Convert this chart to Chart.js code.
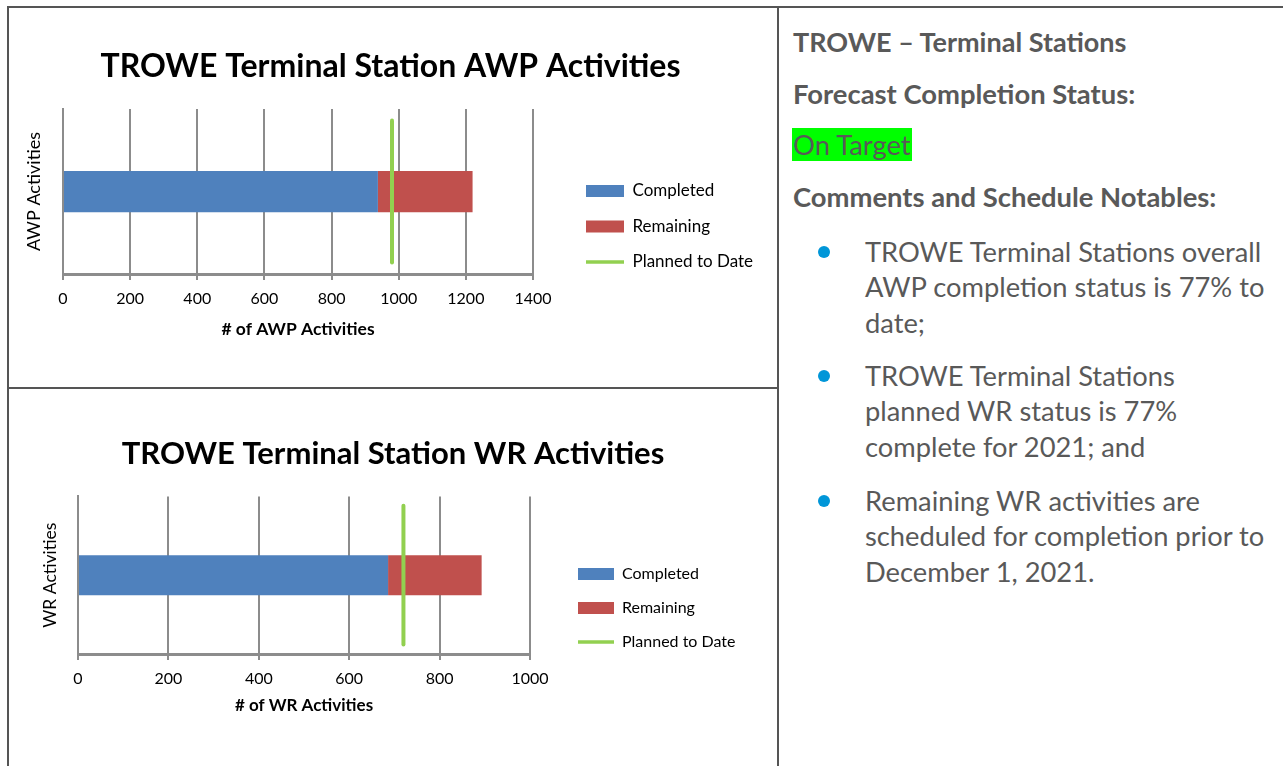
<!DOCTYPE html>
<html lang="en">
<head>
  <meta charset="UTF-8" />
  <title>TROWE Terminal Stations</title>
  <script src="https://cdn.jsdelivr.net/npm/chart.js"></script>
  <style>
    body { margin: 0; width: 1283px; height: 766px; overflow: hidden; background: #fff; position: relative; font-family: Lato, sans-serif; }
    .rule { position: absolute; background: #555; }
    canvas { position: absolute; left: 9px; }
    .note { position: absolute; left: 793px; margin: 0; color: #595959; font-size: 27.4px; line-height: 36px; white-space: nowrap; }
    .note.bold { font-weight: bold; }
    .hl { background: #00ff00; padding: 0 1px; }
    .item { position: absolute; left: 865px; margin: 0; color: #595959; font-size: 27.3px; line-height: 35.3px; white-space: nowrap; }
    .item::before { content: ''; position: absolute; left: -47px; top: 12px; width: 12px; height: 12px; border-radius: 50%; background: #0096d8; }
  </style>
</head>
<body>
  <div class="rule" style="left:7px; top:6px; width:1276px; height:2px;"></div>
  <div class="rule" style="left:7px; top:6px; width:2px; height:760px;"></div>
  <div class="rule" style="left:777px; top:6px; width:2px; height:760px;"></div>
  <div class="rule" style="left:7px; top:387px; width:772px; height:2px;"></div>

  <canvas id="awpChart" width="768" height="378" style="top:9px;"></canvas>
  <canvas id="wrChart" width="768" height="377" style="top:389px;"></canvas>

  <p class="note bold" style="top:24px; font-size:27px;">TROWE – Terminal Stations</p>
  <p class="note bold" style="top:76px;">Forecast Completion Status:</p>
  <p class="note" style="top:127px; left:792px;"><span class="hl">On Target</span></p>
  <p class="note bold" style="top:179px;">Comments and Schedule Notables:</p>
  <p class="item" style="top:234px;">TROWE Terminal Stations overall<br>AWP completion status is 77% to<br>date;</p>
  <p class="item" style="top:358px;">TROWE Terminal Stations<br>planned WR status is 77%<br>complete for 2021; and</p>
  <p class="item" style="top:483px;">Remaining WR activities are<br>scheduled for completion prior to<br>December 1, 2021.</p>

  <script>
    // series names shared by both charts
    const seriesNames = ['Completed', 'Remaining', 'Planned to Date'];

    // AWP activities
    const awpCategories = ['AWP Activities'];
    const awpCompleted = [938];
    const awpRemaining = [282];
    const awpPlanned = [980];
    const awpTickRange = [0, 1400];

    // WR activities
    const wrCategories = ['WR Activities'];
    const wrCompleted = [686];
    const wrRemaining = [207];
    const wrPlanned = [720];
    const wrTickRange = [0, 1000];

    const tickStep = 200;

    const BLUE = '#4f81bd';
    const RED = '#c0504d';
    const GREEN = '#92d050';
    const GRID = '#8c8c8c';

    function buildChart(canvasId, cfg) {
      const legendPad = cfg.legendSpacing - cfg.legendFont;
      return new Chart(document.getElementById(canvasId), {
        type: 'bar',
        data: {
          labels: cfg.categories,
          datasets: [
            { label: seriesNames[0], data: cfg.completed, backgroundColor: BLUE, xAxisID: 'x', yAxisID: 'y', order: 1 },
            { label: seriesNames[1], data: cfg.remaining, backgroundColor: RED, xAxisID: 'x', yAxisID: 'y', order: 1 },
            {
              // vertical marker: two points at the planned value on a hidden 0..1 axis
              type: 'line',
              label: seriesNames[2],
              data: [{ x: cfg.planned[0], y: 0 }, { x: cfg.planned[0], y: 1 }],
              xAxisID: 'x',
              yAxisID: 'y2',
              borderColor: GREEN,
              backgroundColor: GREEN,
              borderWidth: 4,
              borderCapStyle: 'round',
              pointRadius: 0,
              order: 0
            }
          ]
        },
        options: {
          indexAxis: 'y',
          responsive: false,
          animation: false,
          layout: { padding: { left: 0, top: 0, right: cfg.padRight, bottom: 0 } },
          datasets: { bar: { categoryPercentage: 1, barPercentage: cfg.barPct, grouped: false } },
          scales: {
            x: {
              type: 'linear',
              min: cfg.range[0],
              max: cfg.range[1],
              stacked: true,
              ticks: {
                stepSize: tickStep, color: '#000', font: { family: 'Lato', size: 16 }, padding: 9,
                callback: (v) => String(v)
              },
              grid: { color: GRID, lineWidth: 2, tickLength: 6 },
              border: { display: true, color: GRID, width: 3 },
              title: {
                display: true, text: cfg.xTitle, color: '#000',
                font: { family: 'Lato', size: cfg.xTitleFont, weight: 'bold' },
                padding: { top: 0, bottom: cfg.xTitlePad }
              },
              afterFit(scale) { scale.height = cfg.xHeight; }
            },
            y: {
              type: 'category',
              offset: true,
              stacked: true,
              ticks: { display: false },
              grid: { display: false, drawTicks: false },
              border: { display: true, color: GRID, width: 2 },
              title: {
                display: true, text: cfg.yTitle, color: '#000',
                font: { family: 'Lato', size: cfg.yTitleFont },
                padding: { top: cfg.yTitlePad, bottom: 0 }
              },
              afterFit(scale) { scale.width = cfg.plotLeft; }
            },
            y2: {
              type: 'linear',
              position: 'right',
              offset: false,
              min: -cfg.lineInset,
              max: 1 + cfg.lineInset,
              ticks: { display: false },
              grid: { display: false, drawTicks: false },
              border: { display: false },
              afterFit(scale) { scale.width = cfg.rightSpace; }
            }
          },
          plugins: {
            title: {
              display: true, text: cfg.title, color: '#000',
              font: { family: 'Lato', size: cfg.titleFont, weight: 'bold', lineHeight: 1.2 },
              padding: { top: cfg.titleTop, bottom: cfg.titleBottom }
            },
            legend: {
              position: 'chartArea',
              align: 'start',
              labels: {
                usePointStyle: true,
                pointStyleWidth: cfg.legendBoxW,
                boxHeight: 12,
                padding: legendPad,
                color: '#000',
                font: { family: 'Lato', size: cfg.legendFont },
                sort: (a, b) => a.datasetIndex - b.datasetIndex,
                generateLabels(chart) {
                  const items = Chart.defaults.plugins.legend.labels.generateLabels(chart);
                  return items.map((it) => {
                    const isLine = it.datasetIndex === 2;
                    return Object.assign(it, {
                      pointStyle: isLine ? 'line' : 'rect',
                      lineWidth: isLine ? 3.5 : 0,
                      strokeStyle: isLine ? GREEN : 'rgba(0,0,0,0)',
                      fillStyle: isLine ? 'rgba(0,0,0,0)' : it.fillStyle
                    });
                  });
                }
              }
            },
            tooltip: { enabled: false }
          }
        },
        plugins: [{
          id: 'placeLegend',
          afterLayout(chart) {
            const lg = chart.legend;
            const w = lg.width;
            lg.left = cfg.legendX - legendPad;
            lg.right = lg.left + w;
            lg.top = cfg.legendY - cfg.legendFont / 2 - legendPad;
            lg.bottom = lg.top + chart.height;
          }
        }]
      });
    }

    buildChart('awpChart', {
      title: 'TROWE Terminal Station AWP Activities',
      xTitle: '# of AWP Activities',
      yTitle: 'AWP Activities',
      categories: awpCategories,
      completed: awpCompleted,
      remaining: awpRemaining,
      planned: awpPlanned,
      range: awpTickRange,
      padRight: 5,
      plotLeft: 54,
      rightSpace: 239,
      xHeight: 113,
      xTitleFont: 17.5,
      xTitlePad: 47.5,
      yTitleFont: 18,
      yTitlePad: 14,
      titleFont: 32,
      titleTop: 38.8,
      titleBottom: 22.8,
      barPct: 0.25,
      lineInset: 0.08,
      legendX: 577,
      legendY: 182,
      legendSpacing: 35.5,
      legendFont: 17,
      legendBoxW: 38
    });

    buildChart('wrChart', {
      title: 'TROWE Terminal Station WR Activities',
      xTitle: '# of WR Activities',
      yTitle: 'WR Activities',
      categories: wrCategories,
      completed: wrCompleted,
      remaining: wrRemaining,
      planned: wrPlanned,
      range: wrTickRange,
      padRight: 0,
      plotLeft: 69,
      rightSpace: 247,
      xHeight: 112,
      xTitleFont: 17,
      xTitlePad: 49.8,
      yTitleFont: 17.5,
      yTitlePad: 30.5,
      titleFont: 31,
      titleTop: 46.4,
      titleBottom: 23.8,
      barPct: 0.253,
      lineInset: 0.068,
      legendX: 569,
      legendY: 185,
      legendSpacing: 34,
      legendFont: 16,
      legendBoxW: 36
    });
  </script>
</body>
</html>
